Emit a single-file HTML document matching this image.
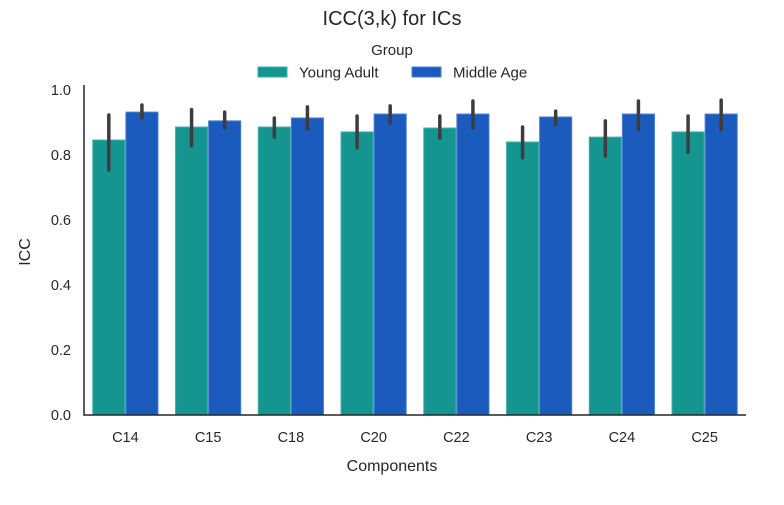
<!DOCTYPE html>
<html><head><meta charset="utf-8"><style>
body{margin:0;background:#fff;font-family:"Liberation Sans",sans-serif;}
svg text{font-family:"Liberation Sans",sans-serif;fill:#262626;}
</style></head><body>
<svg id="chart" width="784" height="500" xmlns="http://www.w3.org/2000/svg">
<text x="392" y="25" text-anchor="middle" font-size="20">ICC(3,k) for ICs</text>
<g>
<text x="392" y="55" text-anchor="middle" font-size="15">Group</text>
<rect x="258" y="67" width="29" height="10" fill="#159590" stroke="#3fb0aa" stroke-width="1"/>
<text x="299" y="77.5" font-size="15">Young Adult</text>
<rect x="412" y="67" width="29" height="10" fill="#1b5bbd" stroke="#4a7fd4" stroke-width="1"/>
<text x="453" y="77.5" font-size="15">Middle Age</text>
</g>
<g id="marks"></g>
<line x1="84" y1="85" x2="84" y2="415.5" stroke="#262626" stroke-width="1.5"/>
<line x1="83.25" y1="415" x2="746" y2="415" stroke="#262626" stroke-width="1.5"/>
<text transform="translate(30,252) rotate(-90)" text-anchor="middle" font-size="16">ICC</text>
<text x="392" y="471" text-anchor="middle" font-size="16">Components</text>
<g id="ticks"></g>
</svg>
<script>
const categories=["C14","C15","C18","C20","C22","C23","C24","C25"];
const youngValues=[0.846,0.886,0.886,0.871,0.883,0.840,0.855,0.871];
const youngLow=[0.754,0.828,0.855,0.822,0.852,0.791,0.797,0.809];
const youngHigh=[0.923,0.940,0.914,0.920,0.920,0.886,0.905,0.920];
const middleValues=[0.932,0.905,0.914,0.926,0.926,0.917,0.926,0.926];
const middleLow=[0.914,0.883,0.880,0.898,0.883,0.895,0.877,0.877];
const middleHigh=[0.954,0.932,0.948,0.951,0.966,0.935,0.966,0.969];
const yTicks=[0,0.2,0.4,0.6,0.8,1.0];
const yTickLabels=["0.0","0.2","0.4","0.6","0.8","1.0"];
const NS="http://www.w3.org/2000/svg";
const x0=84,x1=746,yb=415,scale=325;
const bw=(x1-x0)/categories.length;
function y(v){return yb-v*scale;}
function gx(i){return x0+bw*i+bw/2;}
const marks=document.getElementById('marks'),ticks=document.getElementById('ticks');
function mk(tag,attrs,parent){const e=document.createElementNS(NS,tag);for(const k in attrs)e.setAttribute(k,attrs[k]);parent.appendChild(e);return e;}
const series=[{v:youngValues,lo:youngLow,hi:youngHigh,c:"#159590",s:"#3fb0aa",n:"young-adult",off:-1},
{v:middleValues,lo:middleLow,hi:middleHigh,c:"#1b5bbd",s:"#4a7fd4",n:"middle-age",off:0}];
const barW=bw*0.8/2;
series.forEach(sr=>{
 categories.forEach((cat,i)=>{
  const bx=gx(i)+sr.off*barW;
  const r=mk('rect',{x:bx+0.5,y:y(sr.v[i]),width:barW-1,height:yb-y(sr.v[i]),fill:sr.c,stroke:sr.s,'stroke-width':1},marks);
  
  
 });
});
series.forEach(sr=>{
 categories.forEach((cat,i)=>{
  const cx=gx(i)+sr.off*barW+barW/2;
  const l=mk('line',{x1:cx,x2:cx,y1:y(sr.lo[i]),y2:y(sr.hi[i]),stroke:"#3d3d3d",'stroke-width':3.5,'stroke-linecap':'round'},marks);
  
  
 });
});
categories.forEach((cat,i)=>{
 const t=mk('text',{x:gx(i),y:442,'text-anchor':'middle','font-size':14.5},ticks);
 t.textContent=cat;
 
 
});
yTicks.forEach((v,i)=>{
 const t=mk('text',{x:71,y:y(v)+5,'text-anchor':'end','font-size':14.5},ticks);
 t.textContent=yTickLabels[i];
 
 
});
</script>
</body></html>
